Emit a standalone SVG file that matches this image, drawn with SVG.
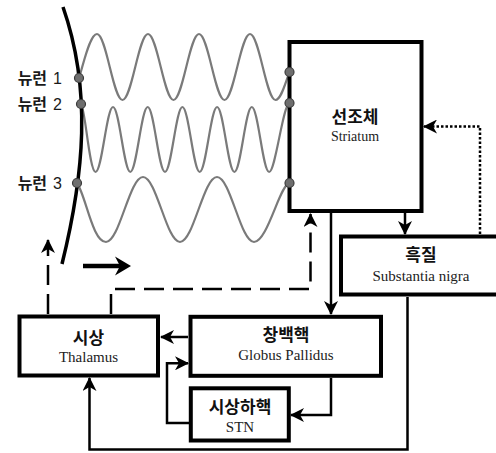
<svg xmlns="http://www.w3.org/2000/svg" width="496" height="453" viewBox="0 0 496 453">
<defs>
<style>
.box{fill:#fff;stroke:#000;stroke-width:4}
.kr{font-family:"Noto Sans CJK KR","Noto Sans",sans-serif;font-weight:bold;font-size:17px;text-anchor:middle;fill:#111}
.en{font-family:"Liberation Serif",serif;font-size:15px;text-anchor:middle;fill:#222}
.lab{font-family:"Noto Sans CJK KR","Noto Sans",sans-serif;font-weight:bold;font-size:16px;text-anchor:end;fill:#1a1a1a}
.num{font-family:"Liberation Sans",Arial,sans-serif;font-weight:normal;font-size:16px}
.conn{fill:none;stroke:#000;stroke-width:2.5}
.dash{stroke-dasharray:20 9}
.dots{stroke-dasharray:2.5 2}
.wave{fill:none;stroke:#7a7a7a;stroke-width:2.2}
.nd{fill:#6e6e6e;stroke:#3a3a3a;stroke-width:1.2}
</style>
<marker id="ah" viewBox="0 0 14 14" refX="13" refY="7" markerWidth="14" markerHeight="14" markerUnits="userSpaceOnUse" orient="auto">
<path d="M0,0 L14,7 L0,14 L4,7 z" fill="#000"/>
</marker>
</defs>
<rect width="496" height="453" fill="#fff"/>

<g id="oscillations">
<path class="wave" d="M79,78 C84,62 90,34 97,34 C106.3,34 113.2,100 122.5,100 S138.7,34 148,34 S164.2,100 173.5,100 S189.7,34 199,34 S215.2,100 224.5,100 S240.7,34 250,34 S266.2,100 275.5,100 C281,100 285,84 289.5,72"/>
<path class="wave" d="M81,104 C85,106 89.3,172 95.6,172 S106.7,107 113,107 S124,172 130.3,172 S141.4,107 147.7,107 S158.7,172 165,172 S176.1,107 182.4,107 S193.4,172 199.7,172 S210.8,107 217.1,107 S228.1,172 234.4,172 S245.5,107 251.8,107 S262.8,172 269.1,172 S283,104 289.5,103"/>
<path class="wave" d="M77,183 C86,196 92.5,242 106,242 S129.5,177 143,177 S166.5,242 180,242 S203.5,177 217,177 S240.5,242 254,242 S280,184 289.5,183"/>
</g>

<g id="neurons">
<path d="M63,7 C92,90 84,175 62,264" fill="none" stroke="#000" stroke-width="3.5"/>
<text class="lab" x="62" y="84">뉴런<tspan class="num" dx="6">1</tspan></text>
<text class="lab" x="62" y="110">뉴런<tspan class="num" dx="6">2</tspan></text>
<text class="lab" x="62" y="189">뉴런<tspan class="num" dx="6">3</tspan></text>
</g>

<g id="striatum">
<rect class="box" x="289.5" y="42" width="132" height="169"/>
<text class="kr" x="355" y="123">선조체</text>
<text class="en" x="355" y="141" style="font-size:14px">Striatum</text>
</g>

<g id="neuron-dots">
<circle class="nd" cx="79" cy="78" r="4.5"/>
<circle class="nd" cx="81" cy="104" r="4.5"/>
<circle class="nd" cx="77" cy="183" r="4.5"/>
<circle class="nd" cx="289.5" cy="72" r="4.5"/>
<circle class="nd" cx="289.5" cy="103" r="4.5"/>
<circle class="nd" cx="289.5" cy="183" r="4.5"/>
</g>

<g id="substantia-nigra">
<rect class="box" x="341" y="236.5" width="200" height="58"/>
<text class="kr" x="421" y="261">흑질</text>
<text class="en" x="421" y="281">Substantia nigra</text>
</g>

<g id="thalamus">
<rect class="box" x="19.5" y="316.5" width="138.5" height="59"/>
<text class="kr" x="88.5" y="344">시상</text>
<text class="en" x="88.5" y="362">Thalamus</text>
</g>

<g id="globus-pallidus">
<rect class="box" x="190.5" y="316.8" width="190.5" height="59"/>
<text class="kr" x="286" y="341">창백핵</text>
<text class="en" x="286" y="360">Globus Pallidus</text>
</g>

<g id="stn">
<rect class="box" x="190.8" y="388.3" width="98" height="52.2"/>
<text class="kr" x="240" y="413">시상하핵</text>
<text class="en" x="240" y="432">STN</text>
</g>

<g id="connectors">
<path class="conn" d="M405,213 V234" marker-end="url(#ah)"/>
<path class="conn" d="M331,213 V314" marker-end="url(#ah)"/>
<path class="conn dots" d="M480,234 V126.5 H424" marker-end="url(#ah)"/>
<path class="conn" d="M188,337 H161" marker-end="url(#ah)"/>
<path class="conn" d="M189,423 H167 V363.3 H188" marker-end="url(#ah)"/>
<path class="conn" d="M331,378 V415 H291" marker-end="url(#ah)"/>
<path class="conn" d="M407.5,297 V449.5 H89.5 V378" marker-end="url(#ah)"/>
<path class="conn dash" d="M48,314 V240" marker-end="url(#ah)"/>
<path class="conn dash" d="M111,314 V289 H310.5 V214" marker-end="url(#ah)"/>
<path d="M83,266 H124" stroke="#000" stroke-width="4.5" fill="none"/>
<path d="M131,266 L115,256.5 L120,266 L115,275.5 z" fill="#000"/>
</g>
</svg>
